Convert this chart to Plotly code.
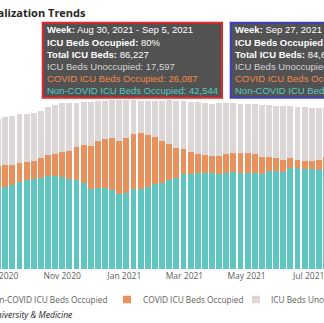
import plotly.graph_objects as go
import pandas as pd

# ---------------- data ----------------
week_start = pd.date_range("2020-08-30", periods=47, freq="7D")

non_covid = [41840, 43210, 43940, 45680, 46730, 47090, 47780, 48980, 48830, 48140,
             47250, 46880, 44990, 42000, 42680, 42680, 41630, 39380, 39900, 41840,
             42000, 43050, 44470, 45310, 46620, 47670, 49720, 49880, 50400, 50400,
             50560, 49880, 50400, 50720, 50300, 50300, 50190, 50030, 51240, 51450,
             51190, 53180, 52920, 52660, 52660, 52240, 52870]
covid = [12230, 11240, 10660, 9820, 9450, 9770, 10500, 10870, 11710, 13130,
         14700, 17010, 20110, 22580, 24360, 25830, 27140, 27930, 28720, 29300,
         29300, 27560, 24730, 21790, 18850, 16010, 13390, 11500, 9980, 9290,
         9030, 9400, 9920, 10450, 10710, 10550, 10030, 8930, 7720, 6830,
         6040, 4990, 4200, 4150, 4150, 4830, 6090]
unoccupied = [24520, 25200, 25730, 25730, 25040, 24890, 24830, 25200, 25730, 25880,
              25200, 23420, 22730, 23260, 21320, 19850, 19950, 21420, 20110, 17430,
              17170, 17690, 19010, 21370, 23100, 24780, 25100, 26460, 27300, 27460,
              27300, 27720, 26670, 25990, 25620, 25780, 26250, 27140, 27140, 27560,
              28250, 27300, 27930, 28090, 27980, 27720, 26090]

series_names = ["Non-COVID ICU Beds Occupied", "COVID ICU Beds Occupied", "ICU Beds Unoccupied"]

title_text = "ICU Hospitalization Trends"
source_text = "Source: Johns Hopkins University &amp; Medicine"

tip1_lines = ["<b>Week:</b> Aug 30, 2021 - Sep 5, 2021",
              "<b>ICU Beds Occupied:</b> 80%",
              "<b>Total ICU Beds:</b> 86,227",
              "ICU Beds Unoccupied: 17,597",
              "COVID ICU Beds Occupied: 26,087",
              "Non-COVID ICU Beds Occupied: 42,544"]
tip2_lines = ["<b>Week:</b> Sep 27, 2021 - Oct 3, 2021",
              "<b>ICU Beds Occupied:</b> 79%",
              "<b>Total ICU Beds:</b> 84,612",
              "ICU Beds Unoccupied: 17,854",
              "COVID ICU Beds Occupied: 22,310",
              "Non-COVID ICU Beds Occupied: 44,448"]

# ---------------- style ----------------
TEAL = "#5fc5c1"
ORANGE = "#e8915c"
GREY = "#ddd6d6"
TIP_COLORS = ["#ffffff", "#ffffff", "#ffffff", "#d4d4d4", "#f28a4c", "#52cbc4"]
TXT = "#605e5c"

W, H = 324, 323
M_T, M_B = 90, 54
PLOT_H = H - M_T - M_B


def fx(px):
    return px / W


def fy(py):
    return (H - M_B - py) / PLOT_H


fig = go.Figure()
for name, vals, col in zip(series_names, [non_covid, covid, unoccupied], [TEAL, ORANGE, GREY]):
    fig.add_trace(go.Bar(x=week_start, y=vals, name=name, marker_color=col,
                         marker_line_width=0))

shapes = []
annotations = []

# title
annotations.append(dict(text="<b>" + title_text + "</b>", x=fx(88), y=fy(13), xref="paper", yref="paper",
                        xanchor="right", yanchor="middle", showarrow=False,
                        font=dict(family="Open Sans", size=11, color="#252423")))

# tooltip boxes
for x0, x1, col in [(42.7, 222, "#e4262c"), (230.7, 420, "#3c3cc4")]:
    shapes.append(dict(type="rect", xref="paper", yref="paper", x0=fx(x0), x1=fx(x1),
                       y0=fy(97.7), y1=fy(22.7), fillcolor="#525252",
                       line=dict(color=col, width=2)))
for tx, lines in [(44.5, tip1_lines), (233.2, tip2_lines)]:
    for i, (ln, c) in enumerate(zip(lines, TIP_COLORS)):
        annotations.append(dict(text=ln, x=fx(tx), y=fy(30 + 12.14 * i), xref="paper", yref="paper",
                                xanchor="left", yanchor="middle", showarrow=False,
                                font=dict(family="Liberation Sans, Arial", size=9.5, color=c)))

# legend (custom, row clipped on the left like the reference)
leg_y = 299.5
for sx, col in [(-20, TEAL), (123, ORANGE), (252, GREY)]:
    shapes.append(dict(type="rect", xref="paper", yref="paper", x0=fx(sx), x1=fx(sx + 8),
                       y0=fy(leg_y + 3.8), y1=fy(leg_y - 3.8), fillcolor=col, line=dict(width=0)))
for name, tx, anc in [(series_names[0], 109, "right"), (series_names[1], 140.5, "left"),
                      (series_names[2], 269, "left")]:
    annotations.append(dict(text=name, x=fx(tx), y=fy(leg_y), xref="paper", yref="paper",
                            xanchor=anc, yanchor="middle", showarrow=False,
                            font=dict(family="Open Sans", size=8.3, color=TXT)))

# source
annotations.append(dict(text="<i>" + source_text + "</i>", x=fx(75), y=fy(314.5), xref="paper", yref="paper",
                        xanchor="right", yanchor="middle", showarrow=False,
                        font=dict(family="Open Sans", size=8.6, color="#252423")))

fig.update_layout(
    width=W, height=H,
    margin=dict(l=0, r=0, t=M_T, b=M_B, pad=0, autoexpand=False),
    barmode="stack", bargap=0.18,
    plot_bgcolor="white", paper_bgcolor="white",
    showlegend=False,
    shapes=shapes, annotations=annotations,
    xaxis=dict(type="date", range=["2020-08-31 21:00", "2021-07-16 00:00"],
               tick0="2020-09-01", dtick="M2", tickformat="%b %Y",
               ticklabeloverflow="allow", automargin=False,
               showgrid=False, zeroline=False, showline=False, ticks="",
               tickfont=dict(family="Open Sans", size=8.5, color=TXT)),
    yaxis=dict(range=[0, 94000], visible=False, automargin=False),
)

fig.write_html("out.html")
